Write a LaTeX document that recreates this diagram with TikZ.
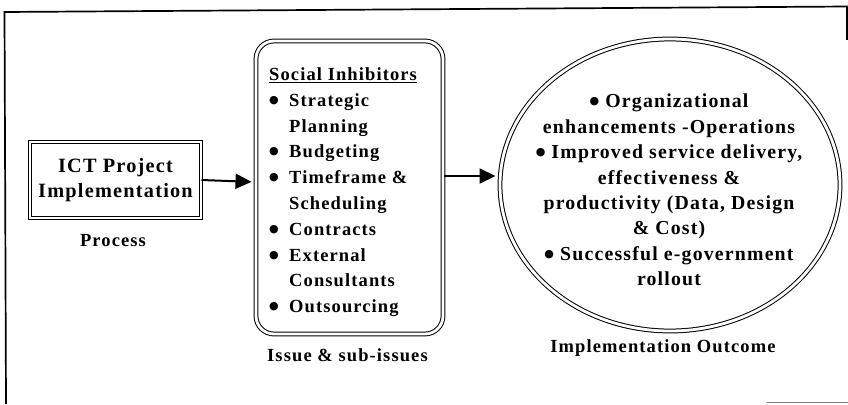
\documentclass[tikz,border=0pt]{standalone}
\usepackage{fontspec}
\newfontfamily\figfont{Liberation Serif}[LetterSpace=6]
\newfontfamily\dotfont{DejaVu Sans}
\usetikzlibrary{arrows.meta,shapes.geometric}

\newcommand{\bigdot}{\raisebox{3pt}{\dotfont\fontsize{11}{11}\selectfont ●}}
\newcommand{\bitem}{\makebox[20pt][l]{\bigdot}}
\newcommand{\bcont}{\hspace*{20pt}}

\begin{document}
\begin{tikzpicture}[x=1pt,y=-1pt,
  every node/.style={font=\figfont\bfseries\fontsize{18.5}{25.8}\selectfont, inner sep=0pt},
  dbl/.style={draw, double, double distance=2.8pt, line width=1pt},
  frame/.style={line width=1.7pt},
  flow/.style={line width=2pt, -{Triangle[length=16pt,width=15pt]}}]
\useasboundingbox (0,0) rectangle (848,404);
% frame of the scanned figure
\draw[frame] (6,404) -- (4.5,12) -- (848,6.5);
\draw[frame] (847,6.5) -- (847,40);
\draw[gray, line width=1.2pt] (767,402.8) -- (848,402.8);

% the three blocks
\node[dbl, minimum width=171pt, minimum height=76pt, align=center,
      font=\figfont\bfseries\fontsize{20.3}{25.5}\selectfont] (ict) at (115.5,180)
  {ICT Project\\Implementation};
\node[dbl, rounded corners=18pt, minimum width=187pt, minimum height=293pt] (soc) at (349.5,187.5) {};
\node[dbl, ellipse, minimum width=340pt, minimum height=292pt] (out) at (670,185) {};

% texts inside
\node[anchor=north west, align=left] (socitems) at (269,67.5)
  {\underline{Social Inhibitors}\\
   \bitem Strategic\\
   \bcont Planning\\
   \bitem Budgeting\\
   \bitem Timeframe \&\\
   \bcont Scheduling\\
   \bitem Contracts\\
   \bitem External\\
   \bcont Consultants\\
   \bitem Outsourcing};
\node[align=center, font=\figfont\bfseries\fontsize{19.8}{25.4}\selectfont] (outitems) at (669,190)
  {\bigdot\ Organizational\\
   enhancements -Operations\\
   \bigdot\ Improved service delivery,\\
   effectiveness \&\\
   productivity (Data, Design\\
   \& Cost)\\
   \bigdot\ Successful e-government\\
   rollout};

% captions
\node[anchor=base] (proc) at (113,246) {Process};
\node[anchor=base] (iss) at (347.5,361) {Issue \& sub-issues};
\node[anchor=base] (res) at (663,352) {Implementation Outcome};

% arrows
\draw[flow, shorten >=4pt] (ict.east) -- ([yshift=-2pt]ict.east -| soc.west);
\draw[flow, shorten >=4pt] ([yshift=11.5pt]soc.east) -- ([yshift=11.5pt]soc.east -| out.west);
\end{tikzpicture}
\end{document}
